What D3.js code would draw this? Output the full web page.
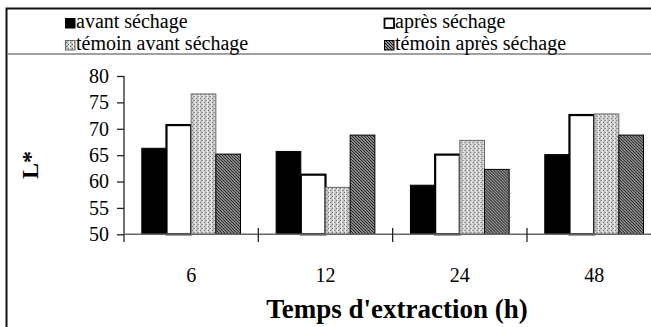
<!DOCTYPE html>
<html>
<head>
<meta charset="utf-8">
<script src="https://cdn.jsdelivr.net/npm/d3@7"></script>
<style>
  html, body { margin: 0; padding: 0; background: #fff; }
  svg { display: block; }
  text { font-family: "Liberation Serif", "Times New Roman", serif; fill: #000; }
</style>
</head>
<body>
<svg id="chart" width="651" height="327"></svg>
<script>
// Extraction time (h) on the x axis
const categories = ["6", "12", "24", "48"];
const seriesNames = ["avant séchage", "après séchage", "témoin avant séchage", "témoin après séchage"];
// L* values per series, one per extraction time
const avantSechage        = [66.3, 65.7, 59.3, 65.1];
const apresSechage        = [70.7, 61.3, 65.1, 72.6];
const temoinAvantSechage  = [76.6, 58.9, 67.8, 72.8];
const temoinApresSechage  = [65.2, 68.8, 62.3, 68.8];
const yTicks = [50, 55, 60, 65, 70, 75, 80];

const seriesValues = [avantSechage, apresSechage, temoinAvantSechage, temoinApresSechage];

const svg = d3.select("#chart");
const defs = svg.append("defs");

// light dotted fill with faint vertical streaks
const dots = defs.append("pattern").attr("id", "pDots")
  .attr("patternUnits", "userSpaceOnUse").attr("width", 4).attr("height", 4);
dots.append("rect").attr("width", 4).attr("height", 4).attr("fill", "#d0d0d0");
dots.append("rect").attr("x", 0).attr("y", 0).attr("width", 1).attr("height", 1).attr("fill", "#666");
dots.append("rect").attr("x", 2).attr("y", 2).attr("width", 1).attr("height", 1).attr("fill", "#666");
dots.append("rect").attr("x", 1).attr("y", 0).attr("width", 1).attr("height", 4).attr("fill", "#f0f0f0");
dots.append("rect").attr("x", 3).attr("y", 0).attr("width", 1).attr("height", 4).attr("fill", "#b8b8b8");

// dark diagonal hatching
const hatch = defs.append("pattern").attr("id", "pHatch")
  .attr("patternUnits", "userSpaceOnUse").attr("width", 3).attr("height", 3);
hatch.append("rect").attr("width", 3).attr("height", 3).attr("fill", "#fff");
hatch.append("path").attr("d", "M-1,-1 L4,4 M-1,2 L1,4 M2,-1 L4,1")
  .attr("stroke", "#1a1a1a").attr("stroke-width", 1.4);

const styles = [
  { fill: "#000", stroke: "#000", sw: 1 },
  { fill: "#fff", stroke: "#000", sw: 2.2 },
  { fill: "url(#pDots)", stroke: "#666", sw: 1 },
  { fill: "url(#pHatch)", stroke: "#000", sw: 1 }
];

// outer frame (continues past the right and bottom edges)
svg.append("path").attr("d", "M6.5,400 L6.5,8.5 L700,8.5")
  .attr("fill", "none").attr("stroke", "#111").attr("stroke-width", 2);
svg.append("line").attr("x1", 7).attr("x2", 651).attr("y1", 54).attr("y2", 54)
  .attr("stroke", "#808080").attr("stroke-width", 1.5);

// legend, two rows of two entries
const legendPos = [
  { x: 65, y: 18 }, { x: 384, y: 18 },
  { x: 65, y: 40 }, { x: 384, y: 40 }
];
seriesNames.forEach((name, i) => {
  const p = legendPos[i];
  const s = styles[i];
  svg.append("rect").attr("x", p.x + 0.5).attr("y", p.y + 0.5)
    .attr("width", 9.5).attr("height", 9.5)
    .attr("fill", s.fill).attr("stroke", s.stroke).attr("stroke-width", i === 1 ? 1.8 : 1);
  svg.append("text").attr("x", p.x + 11).attr("y", p.y + 10)
    .attr("font-size", 20).attr("textLength", null).text(name);
});

// scales
const x = d3.scaleBand().domain(categories).range([124, 661.3])
  .paddingInner(0.265).paddingOuter(0.1325);
const xi = d3.scaleBand().domain(d3.range(4)).range([0, x.bandwidth()]);
const y = d3.scaleLinear().domain([50, 80]).range([234.3, 76]);

// bars
const groups = svg.append("g").selectAll("g").data(categories).join("g")
  .attr("transform", d => `translate(${x(d)},0)`);
groups.selectAll("rect")
  .data((c, ci) => seriesValues.map((vals, si) => ({ si, v: vals[ci] })))
  .join("rect")
  .attr("x", d => xi(d.si))
  .attr("width", xi.bandwidth())
  .attr("y", d => y(d.v))
  .attr("height", d => y(50) - y(d.v))
  .attr("fill", d => styles[d.si].fill)
  .attr("stroke", d => styles[d.si].stroke)
  .attr("stroke-width", d => styles[d.si].sw);

// y axis
const yAxis = svg.append("g").attr("transform", "translate(124,0)")
  .call(d3.axisLeft(y).tickValues(yTicks).tickSize(7).tickPadding(8).tickFormat(d3.format("d")));
yAxis.attr("font-family", null);
yAxis.select(".domain").attr("d", `M0,${y(80)}V242`).attr("stroke", "#222").attr("stroke-width", 1.3);
yAxis.selectAll(".tick line").attr("stroke", "#222").attr("stroke-width", 1.3);
yAxis.selectAll(".tick text").attr("font-size", 20).attr("fill", "#000");

// x axis baseline with category separators crossing it
svg.append("line").attr("x1", 124).attr("x2", 651).attr("y1", y(50)).attr("y2", y(50))
  .attr("stroke", "#666").attr("stroke-width", 1.6);
const bounds = categories.map(c => x(c) - x.step() * x.paddingInner() / 2).slice(1);
svg.append("g").selectAll("line").data(bounds).join("line")
  .attr("x1", d => d).attr("x2", d => d).attr("y1", 228).attr("y2", 242)
  .attr("stroke", "#222").attr("stroke-width", 1.3);

// category labels
svg.append("g").selectAll("text").data(categories).join("text")
  .attr("x", d => x(d) + x.bandwidth() / 2).attr("y", 282)
  .attr("text-anchor", "middle").attr("font-size", 20).text(d => d);

// axis titles
svg.append("text").attr("x", 397).attr("y", 318).attr("text-anchor", "middle")
  .attr("font-size", 27).attr("font-weight", "bold").text("Temps d'extraction (h)");
svg.append("text").attr("transform", "translate(38,165) rotate(-90)")
  .attr("text-anchor", "middle").attr("font-size", 24).attr("font-weight", "bold").text("L*");
</script>
</body>
</html>
